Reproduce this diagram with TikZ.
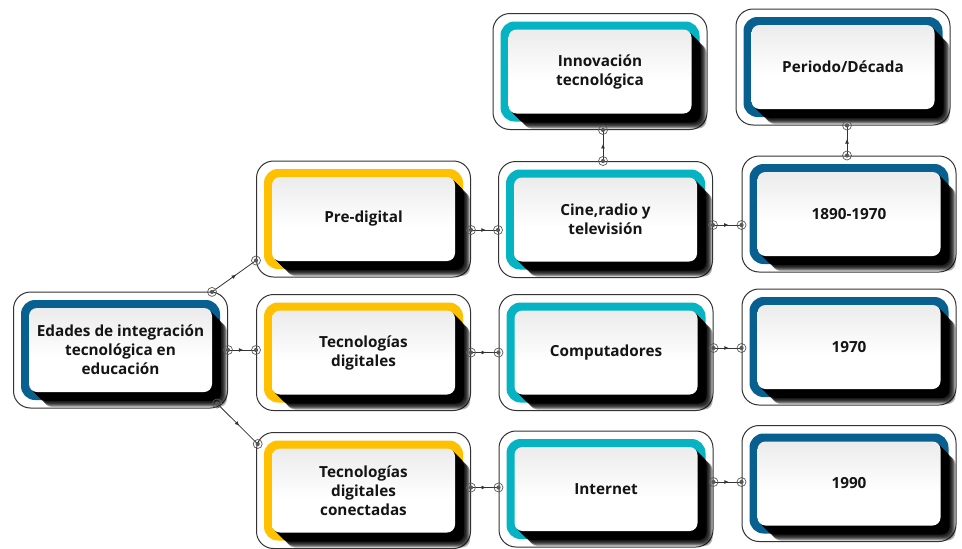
\documentclass[tikz,border=0pt]{standalone}
\usepackage{fontspec}
\setmainfont{Open Sans}
\usetikzlibrary{calc,arrows.meta,decorations.markings}

\definecolor{cyellow}{HTML}{FFC000}
\definecolor{cteal}{HTML}{05B3C3}
\definecolor{cblue}{HTML}{07608F}
\definecolor{edgegray}{HTML}{333333}

% light panel face: grey at the top fading to white
\pgfdeclareverticalshading{panelfill}{100bp}{color(0bp)=(white); color(45bp)=(white); color(100bp)=(black!14)}

\tikzset{
  outerbox/.style={rectangle, rounded corners=17pt, draw=edgegray, line width=1pt,
    fill=white, minimum width=214pt, minimum height=116pt, inner sep=0pt},
  paneltext/.style={align=center, text=black!92, inner sep=0pt,
    font=\bfseries\fontsize{15.3}{19}\selectfont},
  portmark/.style={circle, draw=black!65, line width=0.7pt, minimum size=9pt, inner sep=0pt,
    path picture={\fill[black!65] (path picture bounding box.center) circle (2.1pt);}},
  linkline/.style={draw=edgegray, line width=0.8pt, postaction={decorate},
    decoration={markings, mark=at position 0.55 with {\arrow{Latex[length=4.5pt,width=4pt]}}}},
}

% panel: name, centre, frame colour, text
\newcommand\panel[4]{%
  \node[outerbox] (#1) at #2 {};
  \fill[#3, rounded corners=14pt] ($(#1.center)+(-99.5,-50)$) rectangle ($(#1.center)+(99.5,50)$);
  \foreach \t in {1,...,9}
    \fill[black, rounded corners=8pt] ($(#1.center)+(-91.5+\t,-42+\t)$) rectangle ($(#1.center)+(91.5+\t,42+\t)$);
  \foreach \t in {10,...,15}
    \fill[black, opacity=0.3, rounded corners=8pt] ($(#1.center)+(-91.5+\t,-42+\t)$) rectangle ($(#1.center)+(91.5+\t,42+\t)$);
  \shade[shading=panelfill, rounded corners=8pt] ($(#1.center)+(-91.5,-42)$) rectangle ($(#1.center)+(91.5,42)$);
  \node[paneltext] (#1-t) at (#1.center) {#4};
}

% connector between two named ports
\newcommand\link[2]{%
  \draw[linkline] (#1) -- (#2);
  \node[portmark] at (#1) {};
  \node[portmark] at (#2) {};
}

\begin{document}
\begin{tikzpicture}[x=1pt, y=-1pt]
  \useasboundingbox (0,0) rectangle (962,549);

  \panel{root}{(120.5,350)}{cblue}{Edades de integración\\tecnológica en\\educación}

  \panel{pre}{(363.5,219)}{cyellow}{Pre-digital}
  \panel{tdig}{(363.5,352.5)}{cyellow}{Tecnologías\\digitales}
  \panel{tcon}{(363.5,490.5)}{cyellow}{Tecnologías\\digitales\\conectadas}

  \panel{inno}{(600,71.5)}{cteal}{Innovación\\tecnológica}
  \panel{cine}{(605.5,219.5)}{cteal}{Cine,radio y\\televisión}
  \panel{comp}{(606,352.5)}{cteal}{Computadores}
  \panel{inet}{(606,489)}{cteal}{Internet}

  \panel{peri}{(843,67)}{cblue}{Periodo/Década}
  \panel{y1890}{(849,214)}{cblue}{1890-1970}
  \panel{y1970}{(849,347)}{cblue}{1970}
  \panel{y1990}{(849,483.5)}{cblue}{1990}

  % ports on the panel borders
  \coordinate (rootA) at ($(root.north east)+(-16,0.4)$);
  \coordinate (rootB) at (root.east);
  \coordinate (rootC) at ($(root.south east)+(-11,-5)$);
  \coordinate (preIn) at ($(pre.south west)+(0,-17)$);
  \coordinate (tdigIn) at (rootB -| tdig.west);
  \coordinate (tconIn) at ($(tcon.north west)+(1.7,12)$);

  \coordinate (preOut) at ($(pre.east)+(0,11)$);
  \coordinate (cineIn) at (preOut -| cine.west);
  \coordinate (cineUp) at ($(cine.north)+(-2.5,0)$);
  \coordinate (innoIn) at (cineUp |- inno.south);
  \coordinate (cineOut) at ($(cine.east)+(0,5.5)$);
  \coordinate (y1890In) at (cineOut -| y1890.west);
  \coordinate (y1890Up) at ($(y1890.north)+(-2,0)$);
  \coordinate (periIn) at (y1890Up |- peri.south);

  \coordinate (tdigOut) at (tdig.east);
  \coordinate (compIn) at (tdigOut -| comp.west);
  \coordinate (compOut) at ($(comp.east)+(0,-4.5)$);
  \coordinate (y1970In) at (compOut -| y1970.west);

  \coordinate (tconOut) at ($(tcon.east)+(0,-3)$);
  \coordinate (inetIn) at (tconOut -| inet.west);
  \coordinate (inetOut) at ($(inet.east)+(0,-7)$);
  \coordinate (y1990In) at (inetOut -| y1990.west);

  \link{rootA}{preIn}
  \link{rootB}{tdigIn}
  \link{rootC}{tconIn}
  \link{preOut}{cineIn}
  \link{cineUp}{innoIn}
  \link{cineOut}{y1890In}
  \link{y1890Up}{periIn}
  \link{tdigOut}{compIn}
  \link{compOut}{y1970In}
  \link{tconOut}{inetIn}
  \link{inetOut}{y1990In}
\end{tikzpicture}
\end{document}
